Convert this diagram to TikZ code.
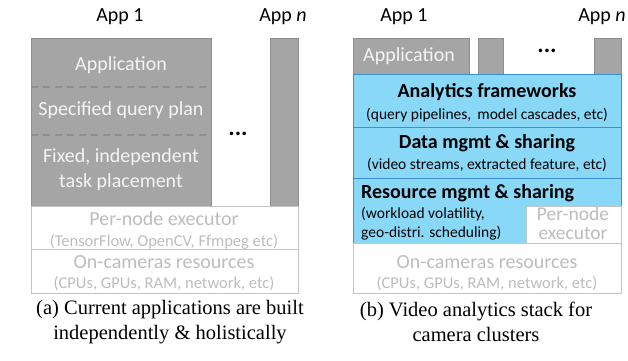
\documentclass[tikz,border=0pt]{standalone}
\usepackage{fontspec}
\setmainfont{Carlito}
\newfontfamily\capfont{Liberation Serif}
\usetikzlibrary{positioning}
\definecolor{appgray}{HTML}{A5A5A5}
\definecolor{appedge}{HTML}{8E8E8E}
\definecolor{apptext}{HTML}{F4F4F4}
\definecolor{stackblue}{HTML}{89D8F8}
\definecolor{stackedge}{HTML}{3C8FD6}
\definecolor{paleline}{HTML}{C4C4C4}
\definecolor{paletext}{HTML}{BDBDBD}

\begin{document}
\begin{tikzpicture}[x=1pt, y=-1pt]
	\tikzset{
		box/.style      = {rectangle, anchor=north west, inner sep=0pt, outer sep=0pt, line width=.8pt},
		appbox/.style   = {box, draw=appedge, fill=appgray, text=apptext},
		stackbox/.style = {box, draw=stackedge, fill=stackblue},
		basebox/.style  = {box, draw=paleline, fill=white},
		big/.style      = {inner sep=0pt, font=\fontsize{20}{23}\selectfont},
		head/.style     = {inner sep=0pt, font=\fontsize{20}{23}\selectfont\bfseries},
		small/.style    = {inner sep=0pt, font=\fontsize{16.5}{19}\selectfont},
		note/.style     = {inner sep=0pt, font=\fontsize{15.5}{19}\selectfont},
		pale/.style     = {text=paletext},
		dots/.style     = {inner sep=0pt, font=\fontsize{24}{24}\selectfont\bfseries},
		sep/.style      = {draw=appedge, dash pattern=on 7pt off 5pt, line width=1.4pt},
		capt/.style     = {align=center, font=\capfont\fontsize{20.5}{25}\selectfont}
	}
	\useasboundingbox (0,0) rectangle (628,360);

	% (a) current applications
	\node[big] (appl)  at (120,17) {App 1};
	\node[big] (appln) at (283,17) {App \textit{n}};
	\node[appbox, minimum width=180pt, minimum height=168pt] (stacka) at (31,38) {};
	\node[appbox, minimum width=28pt, minimum height=168pt]  (lasta)  at (270,38) {};
	\draw[sep] (stacka.west |- 0,87)  -- (stacka.east |- 0,87);
	\draw[sep] (stacka.west |- 0,135) -- (stacka.east |- 0,135);
	\node[big, text=apptext] (appa)   at (121,65)  {Application};
	\node[big, text=apptext] (plana)  at (121,110) {Specified query plan};
	\node[big, text=apptext] (fixa)   at (121,157) {Fixed, independent};
	\node[big, text=apptext] (placea) at (121,182) {task placement};
	\node[dots] (dotsa) at (238,134) {...};
	\node[basebox, minimum width=267pt, minimum height=43pt] (execa) at (31,206) {};
	\node[big, pale]   (exectit)  at (164,219) {Per-node executor};
	\node[small, pale] (execnote) at (164,242) {(TensorFlow, OpenCV, Ffmpeg etc)};
	\node[basebox, minimum width=267pt, minimum height=44pt] (camsa) at (31,249) {};
	\node[big, pale]   (camtit)  at (164,262) {On-cameras resources};
	\node[small, pale] (camnote) at (164,284) {(CPUs, GPUs, RAM, network, etc)};
	\node[capt] (capa) at (170,322) {(a) Current applications are built\\independently \& holistically};

	% (b) video analytics stack
	\node[big] (appr)  at (404,17) {App 1};
	\node[big] (apprn) at (602,17) {App \textit{n}};
	\node[appbox, minimum width=116pt, minimum height=36pt] (applb) at (353,38) {};
	\node[big, text=apptext] (appbtxt) at (409,56) {Application};
	\node[appbox, minimum width=25pt, minimum height=36pt] (midb)  at (478,38) {};
	\node[appbox, minimum width=27pt, minimum height=36pt] (lastb) at (594,38) {};
	\node[dots] (dotsb) at (547,51) {...};
	\node[stackbox, minimum width=268pt, minimum height=53pt] (frameb) at (353,74) {};
	\node[head] (frametit)  at (487,92)  {Analytics frameworks};
	\node[note] (framenote) at (487,115) {(query pipelines,\, model cascades, etc)};
	\node[stackbox, minimum width=268pt, minimum height=51pt] (datab) at (353,127) {};
	\node[head] (datatit)  at (487,143) {Data mgmt \& sharing};
	\node[note] (datanote) at (487,165) {(video streams, extracted feature, etc)};
	\node[stackbox, minimum width=268pt, minimum height=65pt] (resb) at (353,178) {};
	\node[head, anchor=west] (restit) at (361,193) {Resource mgmt \& sharing};
	\node[note, anchor=west] (resnote1) at (361,214) {(workload volatility,};
	\node[note, anchor=west] (resnote2) at (361,233) {geo-distri. scheduling)};
	\node[basebox, minimum width=95pt, minimum height=37pt] (execb) at (526,206) {};
	\node[big, pale, font=\fontsize{19.5}{20}\selectfont] (exectitb1) at (573,214) {Per-node};
	\node[big, pale, font=\fontsize{19.5}{20}\selectfont] (exectitb2) at (573,233) {executor};
	\node[basebox, minimum width=268pt, minimum height=50pt] (camsb) at (353,243) {};
	\node[big, pale]   (camtitb)  at (487,262) {On-cameras resources};
	\node[small, pale] (camnoteb) at (487,284) {(CPUs, GPUs, RAM, network, etc)};
	\node[capt] (capb) at (476,322) {(b) Video analytics stack for\\camera clusters};
\end{tikzpicture}
\end{document}
